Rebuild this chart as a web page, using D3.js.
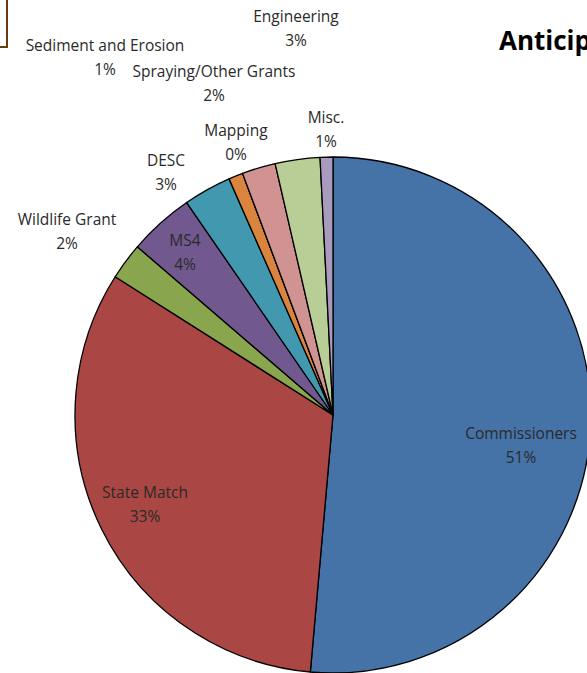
<!DOCTYPE html>
<html><head><meta charset="utf-8">
<script src="https://cdn.jsdelivr.net/npm/d3@7"></script>
<style>body{margin:0;background:#fff;overflow:hidden}svg{display:block}</style>
</head><body>
<svg id="c" width="587" height="673"></svg>
<script>
const categories = ["Commissioners","State Match","Wildlife Grant","MS4","DESC","Sediment and Erosion","Mapping","Spraying/Other Grants","Engineering","Misc."];
const values = [51.4,32.6,2.3,4.1,3.0,0.9,0,2.1,2.8,0.8];
const colors = ["#4572A7","#AA4643","#89A54E","#71588F","#4198AF","#DB843D","#93A9CF","#D19392","#B9CD96","#A99BBD"];
// label anchor positions (centre of name line)
const labelPos = {
  "Commissioners":[521,434],"State Match":[145,493],"Wildlife Grant":[67,220],"MS4":[185,241],
  "DESC":[166,161],"Sediment and Erosion":[105,46],"Mapping":[236,131],
  "Spraying/Other Grants":[214,72],"Engineering":[296,17],"Misc.":[326,118]
};
const title = "Anticipated Revenue";

const svg = d3.select("#c");
const cx = 333, cy = 415, r = 258;
const total = d3.sum(values);
const data = categories.map((c,i)=>({name:c,value:values[i],color:colors[i]}));
const pie = d3.pie().value(d=>d.value).sort(null);
const arc = d3.arc().innerRadius(0).outerRadius(r);
const g = svg.append("g").attr("transform",`translate(${cx},${cy})`);
g.selectAll("path").data(pie(data)).join("path")
  .attr("d",arc).attr("fill",d=>d.data.color)
  .attr("stroke","#000").attr("stroke-width",1.3).attr("stroke-linejoin","round");

const lab = svg.append("g").attr("font-family","'Open Sans', sans-serif").attr("font-size",15.5)
  .attr("fill","#2a2a2a").attr("text-anchor","middle");
data.forEach(d=>{
  const [x,y] = labelPos[d.name];
  lab.append("text").attr("x",x).attr("y",y+5).text(d.name);
  const pct = Math.round(d.value/total*100)+"%";
  lab.append("text").attr("x",x).attr("y",y+29).text(pct);
});

svg.append("text").attr("x",499).attr("y",50).attr("font-family","'Open Sans', sans-serif")
  .attr("font-weight","bold").attr("font-size",26).attr("fill","#000").text(title);

svg.append("rect").attr("x",-10).attr("y",-10).attr("width",17).attr("height",57)
  .attr("fill","none").attr("stroke","#6B3A10").attr("stroke-width",2);
</script>
</body></html>
